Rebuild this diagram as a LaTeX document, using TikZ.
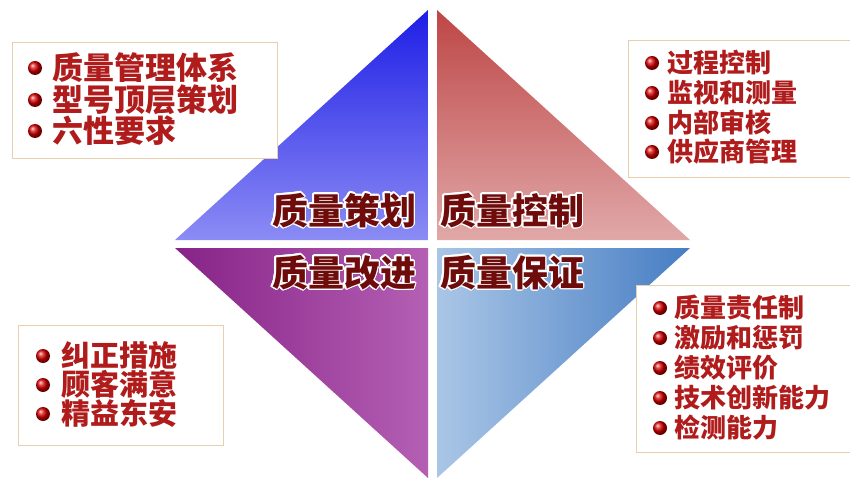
\documentclass[tikz,border=0pt]{standalone}
\usepackage{fontspec}
\newfontfamily\cjk{Noto Sans CJK SC}
\usepackage{contour}
\contourlength{1.3pt}
\contournumber{20}
\definecolor{itemred}{HTML}{B01C1C}
\definecolor{titlered}{HTML}{6E0C0C}
\definecolor{boxline}{HTML}{E8CFAE}
\tikzset{
  itembox/.style={draw=boxline, line width=0.9pt, fill=white},
  item/.style={anchor=west, inner sep=0pt, font=\cjk\bfseries\fontsize{#1}{#1}\selectfont, text=itemred},
  title/.style={inner sep=0pt, font=\cjk\bfseries\fontsize{36}{36}\selectfont, text=titlered},
}
\newcommand{\bul}[2]{\shade[ball color=red!85!black] (#1,#2) circle (7);}
\newcommand{\ctext}[1]{\contour{white}{#1}}
\begin{document}
\begin{tikzpicture}[x=1pt,y=-1pt]
\useasboundingbox (0,0) rectangle (850,478);
\fill[white] (0,0) rectangle (850,478);
% diamond quadrants
\shade[top color={rgb,255:red,30;green,30;blue,230}, bottom color={rgb,255:red,140;green,140;blue,245}] (428,10) -- (428,240) -- (175,240) -- cycle;
\shade[top color={rgb,255:red,190;green,70;blue,70}, bottom color={rgb,255:red,225;green,168;blue,168}] (437,10) -- (690,240) -- (437,240) -- cycle;
\shade[left color={rgb,255:red,135;green,35;blue,135}, right color={rgb,255:red,180;green,95;blue,180}] (175,248) -- (428,248) -- (428,478) -- cycle;
\shade[left color={rgb,255:red,170;green,198;blue,230}, right color={rgb,255:red,70;green,125;blue,195}] (437,248) -- (690,248) -- (437,478) -- cycle;
% center titles
\node[title] (qp) at (344,211) {\ctext{质量策划}};
\node[title] (qc) at (512,211) {\ctext{质量控制}};
\node[title] (qi) at (344,273) {\ctext{质量改进}};
\node[title] (qa) at (512,273) {\ctext{质量保证}};
% top-left box
\draw[itembox] (12,42) rectangle (277,158);
\bul{35}{68}\node[item=31] (tl1) at (52,68) {\ctext{质量管理体系}};
\bul{35}{100}\node[item=31] (tl2) at (52,100) {\ctext{型号顶层策划}};
\bul{35}{131}\node[item=31] (tl3) at (52,131) {\ctext{六性要求}};
% top-right box
\draw[itembox] (628,40) rectangle (851,177);
\bul{652}{63}\node[item=26] (tr1) at (667,63) {\ctext{过程控制}};
\bul{652}{93}\node[item=26] (tr2) at (667,93) {\ctext{监视和测量}};
\bul{652}{123}\node[item=26] (tr3) at (667,123) {\ctext{内部审核}};
\bul{652}{152}\node[item=26] (tr4) at (667,152) {\ctext{供应商管理}};
% bottom-left box
\draw[itembox] (18,325) rectangle (223,445);
\bul{43}{356}\node[item=29] (bl1) at (61,356) {\ctext{纠正措施}};
\bul{43}{385}\node[item=29] (bl2) at (61,385) {\ctext{顾客满意}};
\bul{43}{414}\node[item=29] (bl3) at (61,414) {\ctext{精益东安}};
% bottom-right box
\draw[itembox] (636,285) rectangle (851,452);
\bul{660}{308}\node[item=26] (br1) at (674,308) {\ctext{质量责任制}};
\bul{660}{338}\node[item=26] (br2) at (674,338) {\ctext{激励和惩罚}};
\bul{660}{368}\node[item=26] (br3) at (674,368) {\ctext{绩效评价}};
\bul{660}{398}\node[item=26] (br4) at (674,398) {\ctext{技术创新能力}};
\bul{660}{428}\node[item=26] (br5) at (674,428) {\ctext{检测能力}};
\end{tikzpicture}
\end{document}
